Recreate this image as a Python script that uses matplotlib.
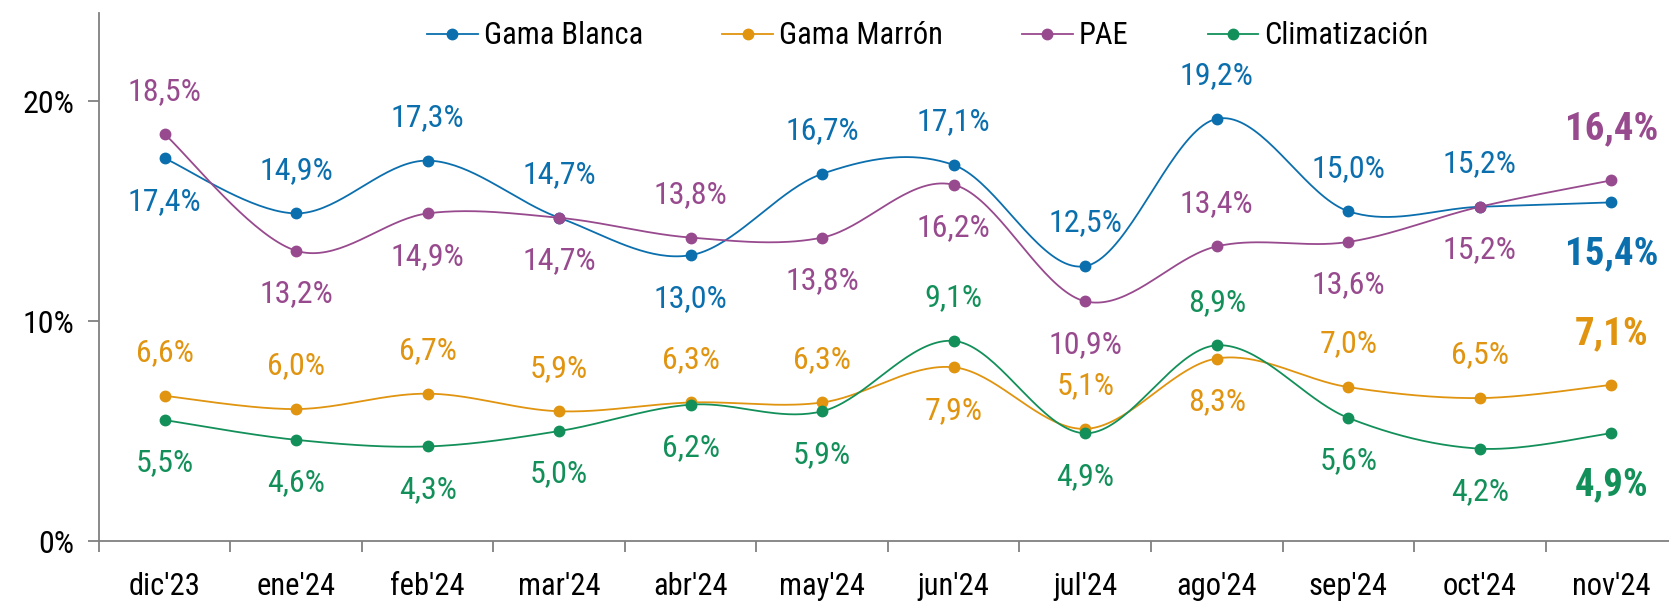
import numpy as np
import matplotlib
matplotlib.use("Agg")
import matplotlib.pyplot as plt
from matplotlib import font_manager

months = ["dic'23", "ene'24", "feb'24", "mar'24", "abr'24", "may'24",
          "jun'24", "jul'24", "ago'24", "sep'24", "oct'24", "nov'24"]

gama_blanca = [17.4, 14.9, 17.3, 14.7, 13.0, 16.7, 17.1, 12.5, 19.2, 15.0, 15.2, 15.4]
gama_marron = [6.6, 6.0, 6.7, 5.9, 6.3, 6.3, 7.9, 5.1, 8.3, 7.0, 6.5, 7.1]
pae = [18.5, 13.2, 14.9, 14.7, 13.8, 13.8, 16.2, 10.9, 13.4, 13.6, 15.2, 16.4]
climatizacion = [5.5, 4.6, 4.3, 5.0, 6.2, 5.9, 9.1, 4.9, 8.9, 5.6, 4.2, 4.9]

# label side per point: 1 above, -1 below
side_blanca = [-1, 1, 1, 1, -1, 1, 1, 1, 1, 1, 1, -1]
side_marron = [1, 1, 1, 1, 1, 1, -1, 1, -1, 1, 1, 1]
side_pae = [1, -1, -1, -1, 1, -1, -1, -1, 1, -1, -1, 1]
side_clima = [-1, -1, -1, -1, -1, -1, 1, -1, 1, -1, -1, -1]

series = [
    ("Gama Blanca", gama_blanca, side_blanca, "#0b6fae"),
    ("Gama Marrón", gama_marron, side_marron, "#e0940f"),
    ("PAE", pae, side_pae, "#984a8e"),
    ("Climatización", climatizacion, side_clima, "#13905a"),
]

available = {f.name for f in font_manager.fontManager.ttflist}
FONT = "DejaVu Sans"
for name in ["Roboto Condensed", "Liberation Sans Narrow", "DejaVu Sans Condensed"]:
    if name in available:
        FONT = name
        break
plt.rcParams["font.family"] = [FONT, "DejaVu Sans"]


def smooth(xs, ys, n=40):
    # Excel-like smoothed line (Catmull-Rom as cubic Bezier)
    p = np.column_stack([xs, ys]).astype(float)
    out = [p[0]]
    t = np.linspace(0, 1, n)[1:, None]
    for i in range(len(p) - 1):
        p0 = p[i - 1] if i > 0 else p[i]
        p1, p2 = p[i], p[i + 1]
        p3 = p[i + 2] if i + 2 < len(p) else p[i + 1]
        c1 = p1 + (p2 - p0) / 6.0
        c2 = p2 - (p3 - p1) / 6.0
        seg = ((1 - t) ** 3) * p1 + 3 * ((1 - t) ** 2) * t * c1 + 3 * (1 - t) * t ** 2 * c2 + t ** 3 * p2
        out.extend(seg)
    out = np.array(out)
    return out[:, 0], out[:, 1]


fig = plt.figure(figsize=(16.69, 6.04), dpi=100)
ax = fig.add_axes([0.0593, 0.1043, 0.9455, 0.8737])

x = np.arange(len(months))
handles = []
for name, vals, sides, color in series:
    sx, sy = smooth(x, vals)
    ax.plot(sx, sy, color=color, lw=1.3, zorder=2)
    ax.plot(x, vals, "o", color=color, ms=7.5, zorder=3)
    h, = ax.plot([], [], "-o", color=color, lw=1.3, ms=7.5, label=name)
    handles.append(h)
    for i, (v, s) in enumerate(zip(vals, sides)):
        last = i == len(vals) - 1
        txt = f"{v:.1f}%".replace(".", ",")
        ax.annotate(txt, (i, v), xytext=(0, s * (37 if last else 31)),
                    textcoords="offset points", ha="center", va="center",
                    color=color, fontsize=28 if last else 23,
                    fontweight="bold" if last else "normal", zorder=4)

ax.set_xlim(-0.5, 11.5)
ax.set_ylim(0, 24)
ax.set_yticks([0, 10, 20])
ax.set_yticklabels(["0%", "10%", "20%"])
ax.set_xticks(x)
ax.set_xticklabels(months)
ax.set_xticks(np.arange(-0.5, 12, 1), minor=True)
ax.tick_params(axis="x", which="major", length=0, pad=22, labelsize=22)
ax.tick_params(axis="x", which="minor", length=8, width=1.3, color="#808080", direction="out")
ax.tick_params(axis="y", length=8, width=1.3, color="#808080", pad=10, labelsize=23)

for sp in ["top", "right"]:
    ax.spines[sp].set_visible(False)
for sp in ["left", "bottom"]:
    ax.spines[sp].set_color("#808080")
    ax.spines[sp].set_linewidth(1.3)

fig.legend(handles=handles, loc="upper center", bbox_to_anchor=(0.556, 1.0),
           ncol=4, frameon=False, fontsize=22, handlelength=1.65,
           handletextpad=0.2, columnspacing=2.6, borderaxespad=0.3)

fig.savefig("out.png", dpi=100)
